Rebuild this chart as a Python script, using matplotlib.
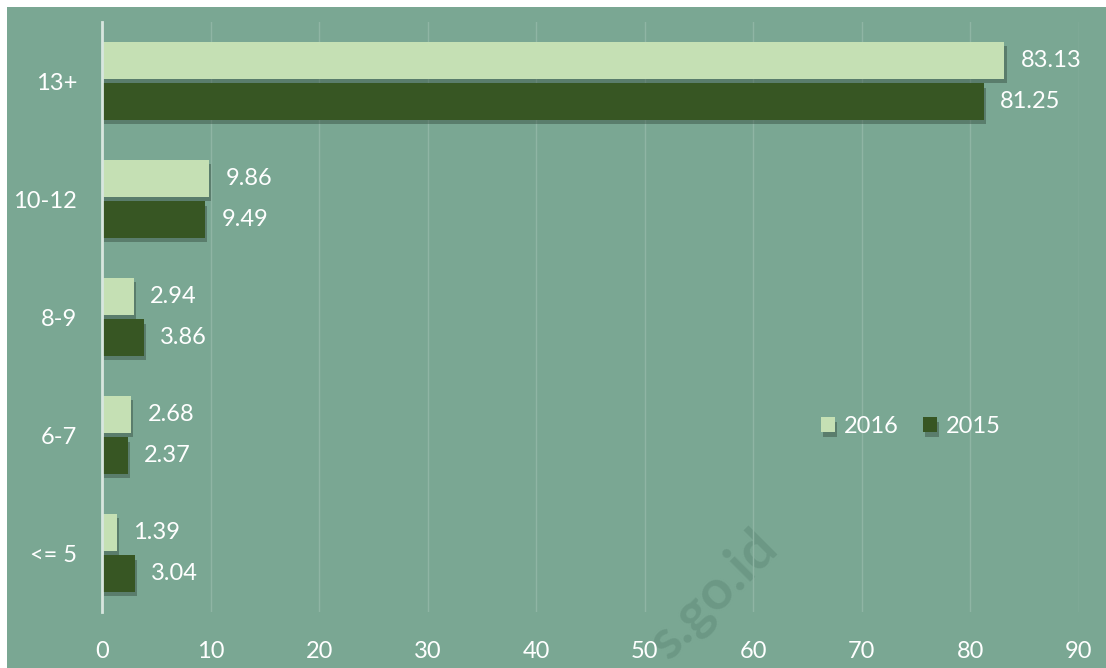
import numpy as np
import matplotlib.pyplot as plt
import matplotlib.patheffects as pe
from matplotlib.patches import Rectangle

categories = ['<= 5', '6-7', '8-9', '10-12', '13+']
val_2016 = [1.39, 2.68, 2.94, 9.86, 83.13]
val_2015 = [3.04, 2.37, 3.86, 9.49, 81.25]

bg = '#7aa793'
light = '#c5e0b4'
dark = '#375623'

plt.rcParams['font.family'] = ['Lato', 'DejaVu Sans']

fig = plt.figure(figsize=(11.06, 6.68), dpi=100)
fig.patch.set_facecolor('white')
fig.add_artist(Rectangle((7 / 1106, 0), 1 - 7 / 1106, 1 - 7 / 668,
                         transform=fig.transFigure, facecolor=bg,
                         edgecolor='none', zorder=-10))

ax = fig.add_axes([102 / 1106, 1 - 612 / 668, 977 / 1106, 590 / 668])
ax.set_facecolor('none')

y = np.arange(len(categories))
h = 0.31
shadow = [pe.SimplePatchShadow(offset=(1.5, -3), shadow_rgbFace='#2a3f33', alpha=0.4), pe.Normal()]
b16 = ax.barh(y + h / 2 + 0.02, val_2016, height=h, color=light, label='2016', zorder=3)
b15 = ax.barh(y - h / 2 - 0.02, val_2015, height=h, color=dark, label='2015', zorder=3)
for b in list(b16) + list(b15):
    b.set_path_effects(shadow)

for yy, v in zip(y + h / 2 + 0.02, val_2016):
    ax.text(v + 1.5, yy, f'{v:.2f}', va='center', ha='left', color='white', fontsize=17)
for yy, v in zip(y - h / 2 - 0.02, val_2015):
    ax.text(v + 1.5, yy, f'{v:.2f}', va='center', ha='left', color='white', fontsize=17)

ax.set_xlim(0, 90)
ax.set_ylim(-0.5, 4.5)
ax.set_xticks(np.arange(0, 91, 10))
ax.set_yticks(y)
ax.set_yticklabels(categories)
ax.tick_params(axis='x', length=0, pad=21, labelsize=17, colors='white')
ax.tick_params(axis='y', length=0, pad=18, labelsize=17, colors='white')
ax.grid(axis='x', color='#8fb5a4', linewidth=1, zorder=0)
for s in ['top', 'right', 'bottom']:
    ax.spines[s].set_visible(False)
ax.spines['left'].set_color('#d8e6df')
ax.spines['left'].set_linewidth(2)
ax.spines['left'].set_zorder(4)

leg = ax.legend(loc='center', bbox_to_anchor=(0.828, 0.314), ncol=2, frameon=False,
                fontsize=17, handlelength=0.6, handleheight=0.6, handletextpad=0.4,
                columnspacing=1.0)
for t in leg.get_texts():
    t.set_color('white')

fig.text(0.645, 0.11, 's.go.id', rotation=45, fontsize=40, color='#5f8a78',
         alpha=0.5, ha='center', va='center', fontweight='bold', zorder=-5)

fig.savefig('out.png', dpi=100, facecolor=fig.get_facecolor())
